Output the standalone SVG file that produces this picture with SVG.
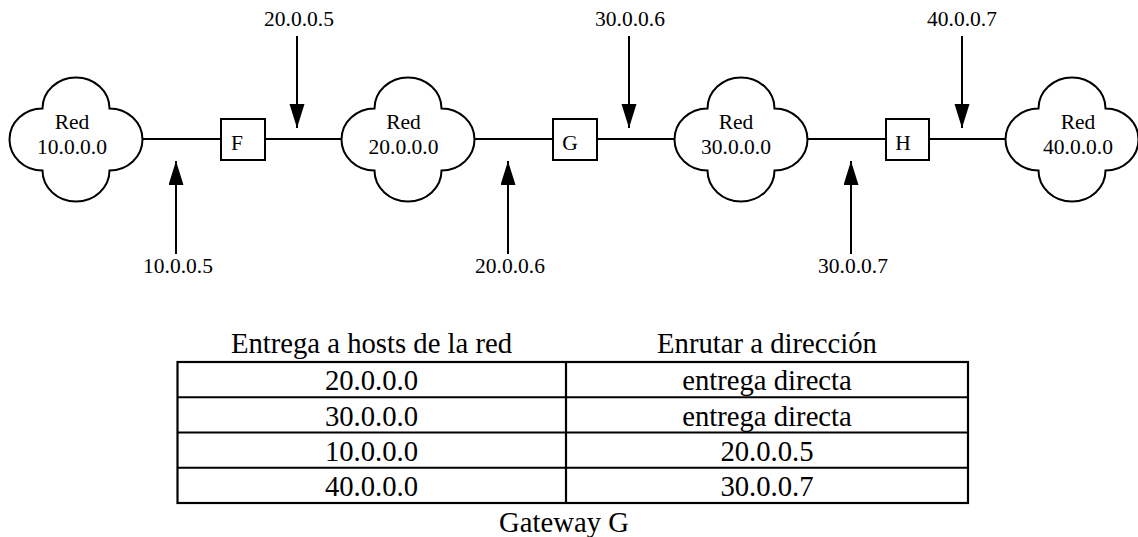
<svg xmlns="http://www.w3.org/2000/svg" width="1138" height="537" viewBox="0 0 1138 537">
  <style>
    .edge { stroke: #000; stroke-width: 2; fill: none; }
    .shape { stroke: #000; stroke-width: 2; fill: #fff; }
    .lbl { font-family: "Liberation Serif", "Times New Roman", serif; font-size: 21.5px; fill: #000; text-anchor: middle; }
    .tbl { font-family: "Liberation Serif", "Times New Roman", serif; font-size: 28.7px; fill: #000; text-anchor: middle; }
    .grid { stroke: #000; stroke-width: 2.2; fill: none; }
  </style>
  <defs>
    <!-- four-lobed cloud centred on the origin -->
    <path id="cloud" d="M-33.5,-31 A33.5,31 0 0 1 33.5,-31 A33,31 0 0 1 33.5,31 A33.5,31 0 0 1 -33.5,31 A33,31 0 0 1 -33.5,-31 Z"/>
    <marker id="head" markerUnits="userSpaceOnUse" markerWidth="24" markerHeight="16" refX="24" refY="7.5" orient="auto">
      <path d="M0,0 L24,7.5 L0,15 Z" fill="#000"/>
    </marker>
  </defs>

  <!-- links between networks and gateways, plus address pointers -->
  <g id="connectors">
    <line class="edge" x1="142" y1="139" x2="221" y2="139"/>
    <line class="edge" x1="265" y1="139" x2="342" y2="139"/>
    <line class="edge" x1="474" y1="139" x2="553" y2="139"/>
    <line class="edge" x1="597" y1="139" x2="675" y2="139"/>
    <line class="edge" x1="807" y1="139" x2="886" y2="139"/>
    <line class="edge" x1="929" y1="139" x2="1006" y2="139"/>

    <line class="edge" x1="297" y1="36" x2="297" y2="128" marker-end="url(#head)"/>
    <line class="edge" x1="629" y1="36" x2="629" y2="128" marker-end="url(#head)"/>
    <line class="edge" x1="962" y1="36" x2="962" y2="128" marker-end="url(#head)"/>
    <line class="edge" x1="176" y1="254" x2="176" y2="161" marker-end="url(#head)"/>
    <line class="edge" x1="508" y1="254" x2="508" y2="161" marker-end="url(#head)"/>
    <line class="edge" x1="851" y1="254" x2="851" y2="161" marker-end="url(#head)"/>
  </g>

  <g id="addr-labels">
    <text class="lbl" x="299" y="26">20.0.0.5</text>
    <text class="lbl" x="630" y="26">30.0.0.6</text>
    <text class="lbl" x="962" y="26">40.0.0.7</text>
    <text class="lbl" x="178" y="273">10.0.0.5</text>
    <text class="lbl" x="510" y="273">20.0.0.6</text>
    <text class="lbl" x="853" y="273">30.0.0.7</text>
  </g>

  <g id="net10">
    <use href="#cloud" class="shape" x="76" y="139.5"/>
    <text class="lbl" x="72" y="129">Red</text>
    <text class="lbl" x="72" y="154">10.0.0.0</text>
  </g>
  <g id="net20">
    <use href="#cloud" class="shape" x="408" y="139.5"/>
    <text class="lbl" x="403.5" y="129">Red</text>
    <text class="lbl" x="403.5" y="154">20.0.0.0</text>
  </g>
  <g id="net30">
    <use href="#cloud" class="shape" x="741" y="139.5"/>
    <text class="lbl" x="736" y="129">Red</text>
    <text class="lbl" x="736" y="154">30.0.0.0</text>
  </g>
  <g id="net40">
    <use href="#cloud" class="shape" x="1072" y="139.5"/>
    <text class="lbl" x="1078" y="129">Red</text>
    <text class="lbl" x="1078" y="154">40.0.0.0</text>
  </g>

  <g id="gw-F">
    <rect class="shape" x="221" y="119" width="44" height="41"/>
    <text class="lbl" x="237" y="150">F</text>
  </g>
  <g id="gw-G">
    <rect class="shape" x="553" y="119" width="44" height="41"/>
    <text class="lbl" x="570" y="150">G</text>
  </g>
  <g id="gw-H">
    <rect class="shape" x="886" y="119" width="43" height="41"/>
    <text class="lbl" x="903" y="150">H</text>
  </g>

  <!-- routing table of gateway G -->
  <g id="routing-table">
    <text class="tbl" x="371.5" y="353">Entrega a hosts de la red</text>
    <text class="tbl" x="767" y="353">Enrutar a dirección</text>
    <rect class="grid" x="177.5" y="362" width="790.5" height="141"/>
    <line class="grid" x1="566" y1="362" x2="566" y2="503"/>
    <line class="grid" x1="177.5" y1="397.25" x2="968" y2="397.25"/>
    <line class="grid" x1="177.5" y1="432.5" x2="968" y2="432.5"/>
    <line class="grid" x1="177.5" y1="467.75" x2="968" y2="467.75"/>
    <text class="tbl" x="371.5" y="390">20.0.0.0</text>
    <text class="tbl" x="767" y="390">entrega directa</text>
    <text class="tbl" x="371.5" y="425.5">30.0.0.0</text>
    <text class="tbl" x="767" y="425.5">entrega directa</text>
    <text class="tbl" x="371.5" y="461">10.0.0.0</text>
    <text class="tbl" x="767" y="461">20.0.0.5</text>
    <text class="tbl" x="371.5" y="496">40.0.0.0</text>
    <text class="tbl" x="767" y="496">30.0.0.7</text>
    <text class="tbl" x="564" y="532">Gateway G</text>
  </g>
</svg>
